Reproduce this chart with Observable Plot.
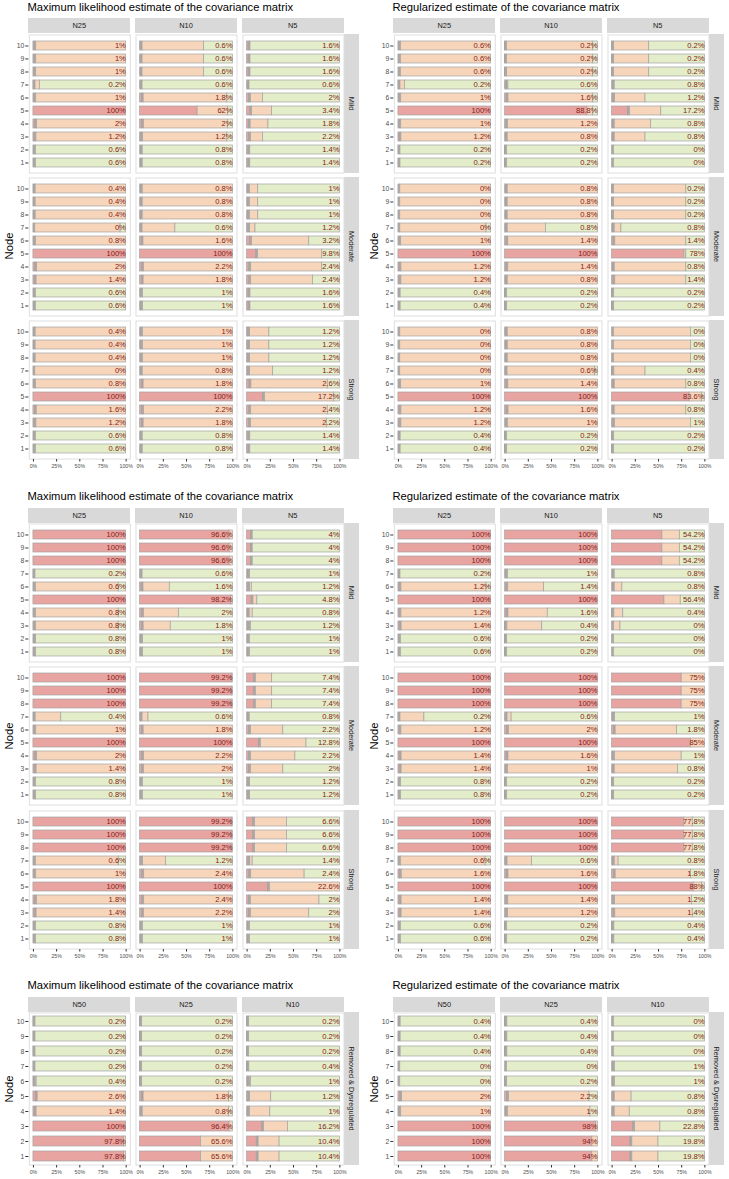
<!DOCTYPE html>
<html><head><meta charset="utf-8">
<script src="https://cdn.jsdelivr.net/npm/d3@7"></script>
<script src="https://cdn.jsdelivr.net/npm/@observablehq/plot@0.6"></script>
<style>
body{margin:0;background:#fff;}
#root{position:relative;width:729px;height:1179px;overflow:hidden;font-family:"Liberation Sans",Arial,Helvetica,sans-serif;background:#fff;}
.abs{position:absolute;}
.title{font-size:11.2px;color:#000;white-space:nowrap;line-height:1;}
.strip{background:#d9d9d9;color:#1a1a1a;font-size:7.4px;display:flex;align-items:center;justify-content:center;white-space:nowrap;}
.rot{transform:rotate(90deg);white-space:nowrap;}
.ylab{font-size:11.2px;color:#000;white-space:nowrap;line-height:1;transform:translate(-50%,-50%) rotate(-90deg);}
</style></head>
<body><div id="root"></div>
<script>
// ---------------- data ----------------
const nodes = [10, 9, 8, 7, 6, 5, 4, 3, 2, 1];
const severityRows = ["Mild", "Moderate", "Strong"];
const removedRows = ["Removed & Dysregulated"];
const sizeColsAB = ["N25", "N10", "N5"];
const sizeColsC = ["N50", "N25", "N10"];
const chartTitles = ["Maximum likelihood estimate of the covariance matrix", "Regularized estimate of the covariance matrix"];
const xTickValues = [0, 25, 50, 75, 100];
const categories = ["catRed", "catGray", "catOrange", "catGreen"];

// label value (= red share, %) per facet, nodes 10 -> 1; facets: Mild N25,N10,N5, Moderate ..., Strong ...
const mlPctA = [
  [1,1,1,0.2,1,100,2,1.2,0.6,0.6],
  [0.6,0.6,0.6,0.6,1.8,62,2,1.2,0.8,0.8],
  [1.6,1.6,1.6,0.6,2,3.4,1.8,2.2,1.4,1.4],
  [0.4,0.4,0.4,0,0.8,100,2,1.4,0.6,0.6],
  [0.8,0.8,0.8,0.6,1.6,100,2.2,1.8,1,1],
  [1,1,1,1.2,3.2,9.8,2.4,2.4,1.6,1.6],
  [0.4,0.4,0.4,0,0.8,100,1.6,1.2,0.6,0.6],
  [1,1,1,0.8,1.8,100,2.2,1.8,0.8,0.8],
  [1.2,1.2,1.2,1.2,2.6,17.2,2.4,2.2,1.4,1.4]
];
// end of the orange part (%), 0 = no orange
const mlEndA = [
  [100,100,100,7,100,100,100,100,0,0],
  [69,69,69,0,94,95,95,94,0,0],
  [0,0,0,0,17,27,23,17,0,0],
  [100,100,100,94,100,100,100,100,0,0],
  [100,100,100,38,100,100,100,100,0,0],
  [12,12,12,9,67,81,81,71,0,0],
  [100,100,100,100,100,100,100,100,0,0],
  [100,100,100,100,100,100,100,100,0,0],
  [24,24,24,28,87,94,87,86,0,0]
];
const regPctA = [
  [0.6,0.6,0.6,0.2,1,100,1,1.2,0.2,0.2],
  [0.2,0.2,0.2,0.6,1.6,88.8,1.2,0.8,0.2,0.2],
  [0.2,0.2,0.2,0.8,1.2,17.2,0.8,0.8,0,0],
  [0,0,0,0,1,100,1.2,1.2,0.4,0.4],
  [0.8,0.8,0.8,0.8,1.4,100,1.4,0.8,0.2,0.2],
  [0.2,0.2,0.2,0.8,1.4,78,0.8,1.4,0.2,0.2],
  [0,0,0,0,1,100,1.2,1.2,0.4,0.4],
  [0.8,0.8,0.8,0.6,1.4,100,1.6,1,0.2,0.2],
  [0,0,0,0.4,0.8,83.6,0.8,1,0.2,0.2]
];
const regEndA = [
  [100,100,100,7,100,100,100,100,0,0],
  [95,95,95,3.5,95,95,100,100,0,0],
  [40,40,40,0,36,53,42,36,0,0],
  [100,100,100,95,100,100,100,100,0,0],
  [100,100,100,44,100,100,100,100,0,0],
  [80,80,80,10,80,80,80,80,0,0],
  [100,100,100,100,100,100,100,100,0,0],
  [100,100,100,97,100,100,100,100,0,0],
  [85,85,85,36,80,97,80,85,0,0]
];
const mlPctB = [
  [100,100,100,0.2,0.6,100,0.8,0.8,0.8,0.8],
  [96.6,96.6,96.6,0.6,1.6,98.2,2,1.8,1,1],
  [4,4,4,1,1.2,4.8,0.8,1.2,1,1],
  [100,100,100,0.4,1,100,2,1.4,0.8,0.8],
  [99.2,99.2,99.2,0.6,1.8,100,2.2,2,1,1],
  [7.4,7.4,7.4,0.8,2.2,12.8,2.2,2,1.2,1.2],
  [100,100,100,0.6,1,100,1.8,1.4,0.8,0.8],
  [99.2,99.2,99.2,1.2,2.4,100,2.4,2.2,1,1],
  [6.6,6.6,6.6,1.4,2.4,22.6,2,2,1,1]
];
const mlEndB = [
  [100,100,100,0,92,100,92,92,0,0],
  [100,100,100,0,32,100,42,33,0,0],
  [6,6,6,0,5,11,6,4,0,0],
  [100,100,100,30,100,100,100,100,0,0],
  [100,100,100,9,100,100,100,100,0,0],
  [27,27,27,0,39,64,52,39,0,0],
  [100,100,100,92,100,100,100,100,0,0],
  [100,100,100,28,100,100,100,100,0,0],
  [43,43,43,6,62,100,78,67,0,0]
];
const regPctB = [
  [100,100,100,0.2,1.2,100,1.2,1.4,0.6,0.6],
  [100,100,100,1,1.4,100,1.6,0.4,0.2,0.2],
  [54.2,54.2,54.2,0.8,0.8,56.4,0.4,0,0,0],
  [100,100,100,0.2,1.2,100,1.4,1.4,0.8,0.8],
  [100,100,100,0.6,2,100,1.6,1,0.2,0.2],
  [75,75,75,1,1.8,85,1,0.8,0.2,0.2],
  [100,100,100,0.6,1.6,100,1.4,1.4,0.6,0.6],
  [100,100,100,0.6,1.6,100,1.4,1.2,0.2,0.2],
  [77.8,77.8,77.8,0.8,1.8,88,1.2,1.4,0.4,0.4]
];
const regEndB = [
  [100,100,100,0,95,100,100,100,0,0],
  [100,100,100,0,42,100,46,40,0,0],
  [73,73,73,0,11,74,12,9,0,0],
  [100,100,100,28,100,100,100,100,0,0],
  [100,100,100,7,100,100,100,100,0,0],
  [100,100,100,0,70,100,75,71,0,0],
  [100,100,100,94,100,100,100,100,0,0],
  [100,100,100,29,100,100,100,100,0,0],
  [87,87,87,7,85,97,86,87,0,0]
];
const mlPctC = [
  [0.2,0.2,0.2,0.2,0.4,2.6,1.4,100,97.8,97.8],
  [0.2,0.2,0.2,0.2,0.2,1.8,0.8,96.4,65.6,65.6],
  [0.2,0.2,0.2,0.4,1,1.2,1,16.2,10.4,10.4]
];
const mlEndC = [
  [0,0,0,0,3.5,100,100,100,100,100],
  [0,0,0,0,0,96,96,100,100,100],
  [0,0,0,0,4,26,25,44,35,35]
];
const regPctC = [
  [0.4,0.4,0.4,0,0,2,1,100,100,100],
  [0.4,0.4,0.4,0,0.2,2.2,1,98,94,94],
  [0,0,0,1,1,0.8,0.8,22.8,19.8,19.8]
];
const regEndC = [
  [0,0,0,0,0,100,100,100,100,100],
  [0,0,0,0,0,91,92,100,100,100],
  [0,0,0,0,0,21,19,52,50,50]
];

// ---------------- style / layout ----------------
const fills = ["#e8a4a1", "#aca7a3", "#f6d5bb", "#e3edc9"];
const GRAY = 2;
const halfX = [0, 365];
const blockY = [0, 489.2, 978.7];
const panelLeft = [28.3, 135, 241.7];
const PW = 102;
const stripTop = 18.3, stripH = 15.2;
const panelTop0 = 33.5;
const gapY = 4.4;

const blocks = [
  {rows: severityRows, cols: sizeColsAB, step: 13.63, charts: [[mlPctA, mlEndA], [regPctA, regEndA]]},
  {rows: severityRows, cols: sizeColsAB, step: 13.63, charts: [[mlPctB, mlEndB], [regPctB, regEndB]]},
  {rows: removedRows, cols: sizeColsC, step: 15.0, charts: [[mlPctC, mlEndC], [regPctC, regEndC]]}
];

const root = document.getElementById("root");
function div(cls, left, top, w, h, text) {
  const d = document.createElement("div");
  d.className = "abs " + cls;
  d.style.left = left + "px"; d.style.top = top + "px";
  if (w != null) d.style.width = w + "px";
  if (h != null) d.style.height = h + "px";
  if (text != null) d.textContent = text;
  root.appendChild(d);
  return d;
}

function segmentsFor(pct, end) {
  const segs = [];
  nodes.forEach((n, i) => {
    const r = pct[i];
    const g = r < 50 ? GRAY : 0;
    const o = Math.max(0, end[i] - r - g);
    const gr = Math.max(0, 100 - r - g - o);
    segs.push({node: n, cat: "catRed", w: r});
    segs.push({node: n, cat: "catGray", w: g});
    segs.push({node: n, cat: "catOrange", w: o});
    segs.push({node: n, cat: "catGreen", w: gr});
  });
  return segs.filter(s => s.w > 0);
}

blocks.forEach((b, bi) => {
  const by = blockY[bi];
  const PH = 10.2 * b.step;
  b.charts.forEach(([pctArr, endArr], hi) => {
    const hx = halfX[hi];
    div("title", hx + 27.5, by + 1.5, null, null, chartTitles[hi]);
    b.cols.forEach((c, ci) => {
      div("strip", hx + panelLeft[ci], by + stripTop, PW, stripH, c);
    });
    b.rows.forEach((rname, ri) => {
      const top = by + panelTop0 + ri * (PH + gapY);
      const rs = div("strip", hx + 344.2, top, 14.4, PH);
      const sp = document.createElement("span"); sp.className = "rot"; sp.textContent = rname; rs.appendChild(sp);
      b.cols.forEach((c, ci) => {
        const fi = ri * b.cols.length + ci;
        const pct = pctArr[fi], end = endArr[fi];
        const showY = ci === 0, showX = ri === b.rows.length - 1;
        const ML = showY ? panelLeft[0] : 0;
        const MB = showX ? 14 : 0;
        const labels = nodes.map((n, i) => ({node: n, label: pct[i] + "%"}));
        const plot = Plot.plot({
          width: ML + PW, height: PH + MB,
          marginLeft: ML, marginRight: 0, marginTop: 0, marginBottom: MB,
          style: {background: "transparent", overflow: "visible", color: "#4d4d4d", fontFamily: "'Liberation Sans', Arial, sans-serif"},
          x: {domain: [0, 100], insetLeft: PW * 0.05 / 1.1, insetRight: PW * 0.05 / 1.1, axis: null},
          y: {domain: nodes, type: "band", paddingInner: 0.34, paddingOuter: 0.27, axis: null},
          color: {type: "ordinal", domain: categories, range: fills},
          marks: [
            Plot.frame({stroke: "#dedede", strokeWidth: 1, inset: 0.5}),
            Plot.barX(segmentsFor(pct, end), {x: "w", y: "node", fill: "cat", stroke: "#a3a3a3", strokeWidth: 0.7}),
            Plot.text(labels, {x: 100, y: "node", text: "label", textAnchor: "end", dx: -0.3, fill: "#861c14", fontSize: 7.6}),
            showY ? Plot.axisY({tickSize: 3, tickPadding: 1.5, fontSize: 6.8, label: null, stroke: "#333"}) : null,
            showX ? Plot.axisX({ticks: xTickValues, tickFormat: d => d + "%", tickSize: 2.5, tickPadding: 2.5, fontSize: 5.2, label: null, stroke: "#333"}) : null
          ]
        });
        plot.style.position = "absolute";
        plot.style.left = (hx + panelLeft[ci] - ML) + "px";
        plot.style.top = top + "px";
        root.appendChild(plot);
      });
    });
    const midTop = by + panelTop0 + Math.floor((b.rows.length - 1) / 2) * (PH + gapY) + PH / 2;
    div("ylab", hx + 10, midTop, null, null, "Node");
  });
});
</script></body></html>
